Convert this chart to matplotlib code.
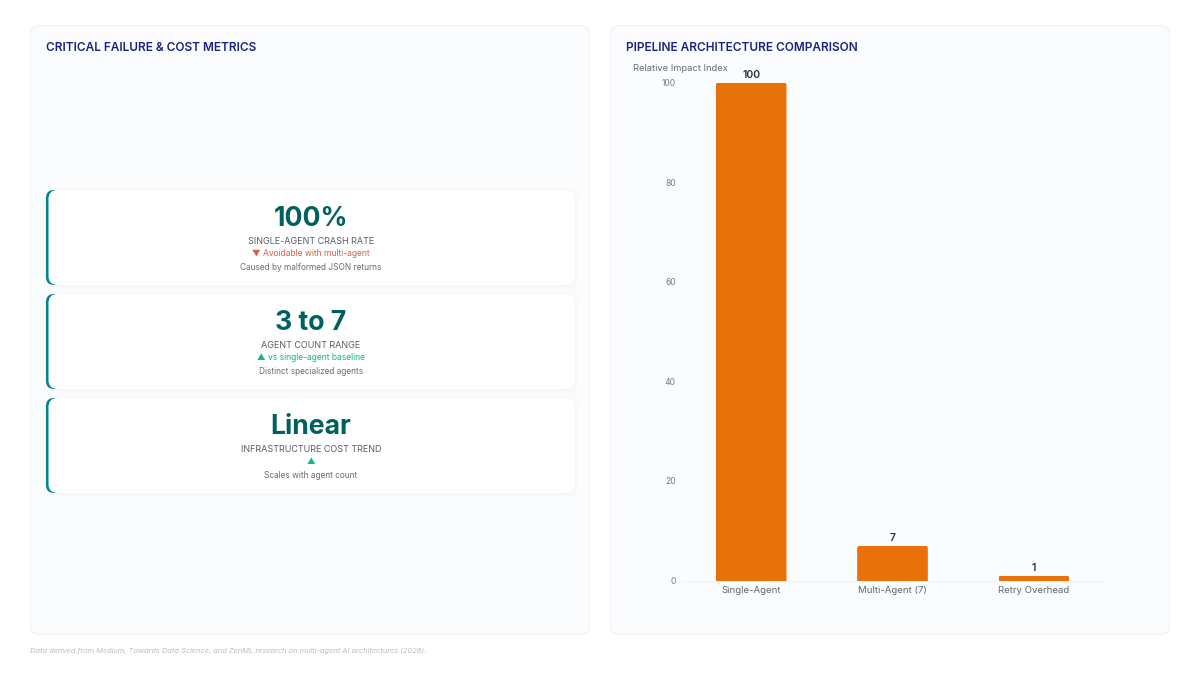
import matplotlib
matplotlib.use("Agg")
import matplotlib.pyplot as plt
from matplotlib.patches import FancyBboxPatch

plt.rcParams['font.family'] = ['Inter', 'Liberation Sans', 'DejaVu Sans']

categories = ["Single-Agent", "Multi-Agent (7)", "Retry Overhead"]
impact_values = [100, 7, 1]
y_ticks = [0, 20, 40, 60, 80, 100]

card_values = ["100%", "3 to 7", "Linear"]
card_labels = ["SINGLE-AGENT CRASH RATE", "AGENT COUNT RANGE", "INFRASTRUCTURE COST TREND"]
card_deltas = ["▼ Avoidable with multi-agent", "▲ vs single-agent baseline", "▲"]
card_delta_colors = ["#d9604c", "#10b981", "#10b981"]
card_notes = ["Caused by malformed JSON returns", "Distinct specialized agents", "Scales with agent count"]
card_tops = [190, 294, 398]

fig = plt.figure(figsize=(12, 6.75), dpi=100, facecolor="white")
bg = fig.add_axes([0, 0, 1, 1], zorder=0)
bg.set_xlim(0, 1200)
bg.set_ylim(675, 0)
bg.axis("off")

def rbox(x0, y0, x1, y1, r, fc, ec="none", lw=0, z=1, alpha=None):
    p = FancyBboxPatch((x0 + r, y0 + r), x1 - x0 - 2 * r, y1 - y0 - 2 * r,
                       boxstyle=f"round,pad={r},rounding_size={r}",
                       fc=fc, ec=ec, lw=lw, zorder=z, alpha=alpha)
    bg.add_patch(p)
    return p

# Panels
for x0 in (30.5, 610.5):
    rbox(x0, 25.5, x0 + 559, 634.5, 9, "#fafcfd", "#f0f2f6", 0.8)

NAVY = "#1a237e"
bg.text(46, 48, "CRITICAL FAILURE & COST METRICS", fontsize=8.5, fontweight="semibold",
        color=NAVY, va="center", ha="left")
bg.text(626, 48, "PIPELINE ARCHITECTURE COMPARISON", fontsize=8.5, fontweight="semibold",
        color=NAVY, va="center", ha="left")

# Cards
cx = 311
for top, val, lab, delta, dcol, note in zip(card_tops, card_values, card_labels,
                                            card_deltas, card_delta_colors, card_notes):
    bot = top + 95
    for grow, a in ((4, 0.004), (2.5, 0.006), (1, 0.008)):
        rbox(46 - grow, top - grow + 1, 575 + grow, bot + grow + 1, 8, "#1a2a50", z=2, alpha=a)
    rbox(46, top, 70, bot, 8, "#00838f", z=3)
    rbox(48.5, top, 575, bot, 9, "#ffffff", z=4)
    bg.text(cx, top + 29, val, fontsize=19.2, fontweight="bold", color="#00605f",
            ha="center", va="center", zorder=5)
    bg.text(cx, top + 51, lab, fontsize=6.5, color="#555b66", ha="center", va="center", zorder=5)
    bg.text(cx, top + 64, delta, fontsize=6.15, color=dcol, ha="center", va="center", zorder=5)
    bg.text(cx, top + 78, note, fontsize=5.95, color="#666c76", ha="center", va="center", zorder=5)

# Footnote
bg.text(30, 650.5, "Data derived from Medium, Towards Data Science, and ZenML research on multi-agent AI architectures (2026).",
        fontsize=5.37, style="italic", color="#b8bcc4", ha="left", va="center")

# Bar chart
L, R, T, B = 680.5, 1104.5, 82.5, 580.5
ax = fig.add_axes([L / 1200, 1 - B / 675, (R - L) / 1200, (B - T) / 675], zorder=2)
ax.patch.set_alpha(0)
xpos = list(range(len(categories)))
bars = ax.bar(xpos, impact_values, width=0.5, color="#e8710a", zorder=3)
ax.set_xlim(-0.5, 2.5)
ax.set_ylim(0, 100)
ax.set_xticks(xpos, categories)
ax.set_yticks(y_ticks)
ax.tick_params(axis="both", length=0)
ax.tick_params(axis="x", labelsize=6.9, labelcolor="#5f6570", pad=4.3)
ax.tick_params(axis="y", labelsize=6.2, labelcolor="#777c86", pad=3.5)
ax.grid(axis="y", color="#f7f9fa", lw=0.7, zorder=0)
ax.set_axisbelow(True)
for s in ("top", "right", "left"):
    ax.spines[s].set_visible(False)
ax.spines["bottom"].set_color("#f1f3f6")
ax.spines["bottom"].set_linewidth(0.8)
ax.spines["bottom"].set_capstyle("butt")

# Rounded top corners through a clip shape on each bar
px_x = 3 / (R - L)
px_y = 100 / (B - T)
rad_x = 2.5 * px_x
rad_y = 2.5 * px_y
for rect, v in zip(bars, impact_values):
    x0 = rect.get_x()
    w = rect.get_width()
    clip = FancyBboxPatch((x0 + rad_x, -5), w - 2 * rad_x, v + 5 - rad_y,
                          boxstyle=f"round,pad={rad_x},rounding_size={rad_x}",
                          mutation_aspect=rad_y / rad_x, transform=ax.transData)
    rect.set_clip_path(clip)
    ax.annotate(str(v), (rect.get_x() + w / 2, v), xytext=(0, 2.1), textcoords="offset points",
                ha="center", va="bottom", fontsize=7.5, fontweight="semibold", color="#2b2f36",
                annotation_clip=False)

bg.text(633, 68.5, "Relative Impact Index", fontsize=6.72, color="#666c76", ha="left", va="center")

fig.savefig("out.png", dpi=100, facecolor="white")
